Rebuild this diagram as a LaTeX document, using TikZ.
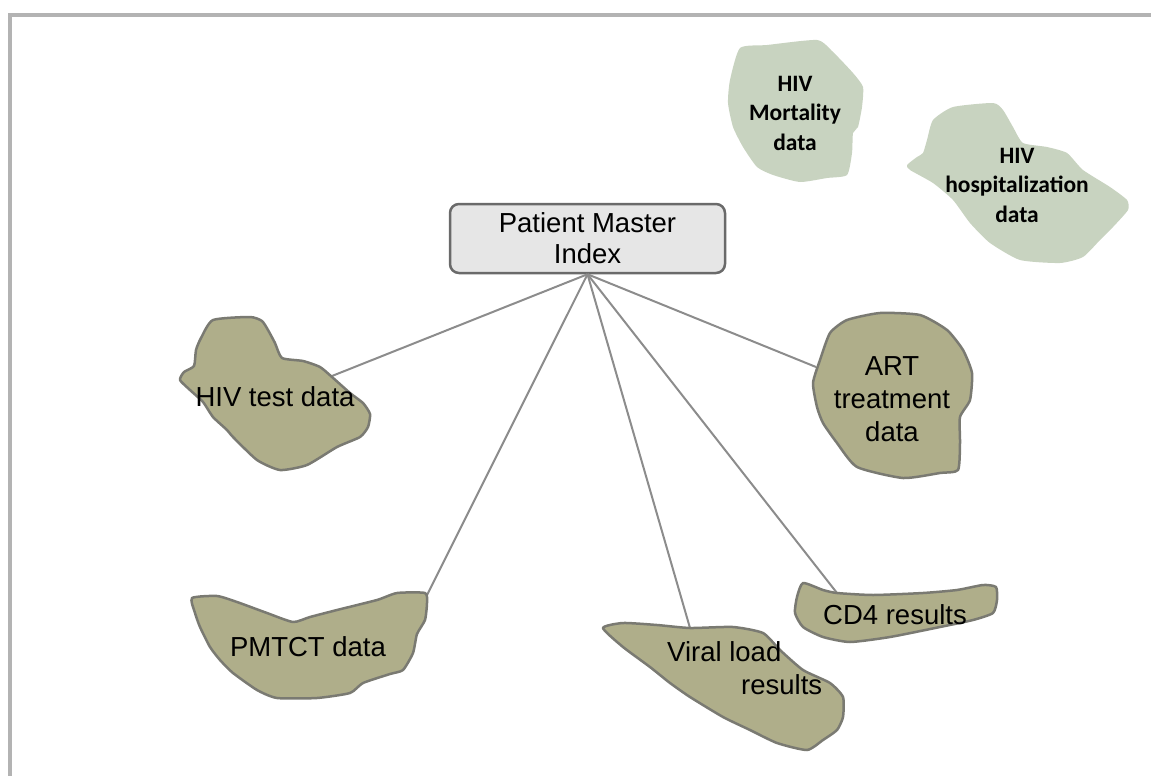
\documentclass[tikz,border=0pt]{standalone}
\usepackage{fontspec}
\setmainfont{Liberation Sans}
\newfontfamily\calibfont{Carlito}
\definecolor{framegray}{HTML}{B3B3B3}
\definecolor{olivefill}{HTML}{AFAE8A}
\definecolor{oliveborder}{HTML}{7A7A72}
\definecolor{greenfill}{HTML}{C8D3C0}
\definecolor{boxfill}{HTML}{E6E6E6}
\definecolor{boxborder}{HTML}{6A6A6A}
\definecolor{conncol}{HTML}{8C8C8C}
\tikzset{
  framestyle/.style={draw=framegray, line width=4pt},
  blob/.style={fill=olivefill, draw=oliveborder, line width=2.5pt, line join=round},
  greenblob/.style={fill=greenfill, draw=none},
  hubbox/.style={draw=boxborder, fill=boxfill, line width=2.5pt, rounded corners=9pt,
    minimum width=275pt, minimum height=69pt, inner sep=0pt, align=center,
    font=\fontsize{27.5}{31}\selectfont},
  conn/.style={draw=conncol, line width=2pt},
  lbl/.style={inner sep=0pt, align=center, font=\fontsize{27.5}{33}\selectfont},
  glbl/.style={inner sep=0pt, align=center, font=\calibfont\bfseries\fontsize{23.5}{29.5}\selectfont},
}
\begin{document}
\begin{tikzpicture}[x=1pt,y=-1pt]
\useasboundingbox (0,0) rectangle (1151,776);
% frame
\draw[framestyle] (10,776) -- (10,15) -- (1151,15);

% connector end points
\coordinate (hivE) at (332,376);
\coordinate (pmtctE) at (427,595);
\coordinate (viralE) at (690,628);
\coordinate (cd4E) at (837,593);
\coordinate (artE) at (816,367);

% hub box
\node[hubbox] (pmi) at (587.5,238.5) {Patient Master\\Index};

% connectors
\draw[conn] (pmi.south) -- (hivE);
\draw[conn] (pmi.south) -- (pmtctE);
\draw[conn] (pmi.south) -- (viralE);
\draw[conn] (pmi.south) -- (cd4E);
\draw[conn] (pmi.south) -- (artE);

% HIV test data blob
\draw[blob] plot[smooth cycle, tension=0.35] coordinates {
 (213,320) (250,317) (262,321) (268,330) (275,343) (282,358) (303,361) (320,367)
 (332,377) (350,393) (363,403) (370,414) (368,427) (360,437) (337,447) (307,465)
 (280,470) (257,460) (233,437) (227,430) (213,417) (203,402) (190,390) (180,380)
 (184,372) (194,366) (196,350) (201,338) };
\node[lbl] (hivtest) at (275,397) {HIV test data};

% PMTCT blob
\draw[blob] plot[smooth cycle, tension=0.35] coordinates {
 (192,598) (217,596) (237,602) (267,613) (293,622) (310,617) (337,610) (377,600)
 (397,593) (425,593) (427,603) (425,620) (417,634) (413,653) (403,670) (390,674)
 (363,683) (350,693) (317,698) (277,698) (257,690) (233,673) (220,660) (210,647)
 (200,627) (195,613) };
\node[lbl] (pmtct) at (308,647) {PMTCT data};

% ART blob
\draw[blob] plot[smooth cycle, tension=0.35] coordinates {
 (820,360) (830,333) (847,320) (880,313) (920,315) (947,330) (963,350) (972,373)
 (970,400) (960,417) (960,443) (958,470) (940,473) (903,478) (857,467) (837,443)
 (823,423) (817,407) (813,383) };
\node[lbl] (art) at (892,399) {ART\\treatment\\data};

% CD4 blob
\draw[blob] plot[smooth cycle, tension=0.35] coordinates {
 (803,583) (823,590) (837,593) (873,595) (923,593) (957,590) (983,585) (996,587)
 (997,600) (993,613) (973,620) (940,627) (890,637) (850,642) (823,637) (803,627)
 (795,613) (797,597) };
\node[lbl] (cd4) at (895,615) {CD4 results};

% Viral load blob
\draw[blob] plot[smooth cycle, tension=0.35] coordinates {
 (603,628) (623,623) (657,625) (690,628) (733,627) (763,633) (780,650) (803,670)
 (830,683) (843,697) (843,717) (837,730) (823,740) (807,750) (777,743) (750,730)
 (723,717) (690,697) (670,683) (650,667) (623,647) };
\node[lbl, align=left, anchor=north west] (viral) at (667,641) {Viral load\\\hspace*{74pt}results};

% HIV Mortality blob
\fill[greenblob] plot[smooth cycle, tension=0.35] coordinates {
 (740,48) (767,45) (817,40) (833,52) (853,73) (863,87) (862,107) (858,127)
 (853,133) (852,153) (847,175) (827,178) (800,182) (773,175) (757,167) (743,147)
 (733,127) (728,103) (730,80) };
\node[glbl] (mort) at (795,113) {HIV\\Mortality\\data};

% HIV hospitalization blob
\fill[greenblob] plot[smooth cycle, tension=0.35] coordinates {
 (933,120) (953,107) (993,103) (1003,110) (1013,127) (1023,143) (1047,147) (1067,153)
 (1083,170) (1110,187) (1127,200) (1128,210) (1113,227) (1100,240) (1083,257) (1060,263)
 (1020,260) (990,243) (970,223) (953,200) (933,183) (910,170) (907,165) (917,157)
 (923,153) (927,140) };
\node[glbl] (hosp) at (1017,185) {HIV\\hospitalization\\data};
\end{tikzpicture}
\end{document}
